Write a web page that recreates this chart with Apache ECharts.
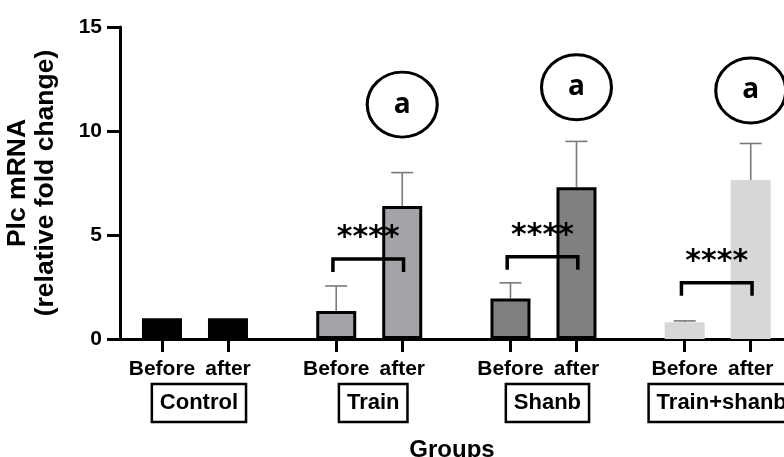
<!DOCTYPE html>
<html>
<head>
<meta charset="utf-8">
<script src="https://cdn.jsdelivr.net/npm/echarts@6/dist/echarts.min.js"></script>
<style>
  html, body { margin: 0; padding: 0; background: #fff; }
  #chart { width: 784px; height: 457px; }
</style>
</head>
<body>
<div id="chart"></div>
<script>
// data
const groups = ['Control', 'Train', 'Shanb', 'Train+shanb'];
const phases = ['Before', 'after'];
const meanValues = [1.0, 1.0, 1.35, 6.4, 1.95, 7.3, 0.8, 7.65];
const errorTops = [null, null, 2.55, 8.0, 2.7, 9.5, 0.87, 9.4];
const bracketLevels = [null, 3.85, 3.95, 2.7];
const letterLevels = [null, 11.27, 12.1, 11.95];
const yTicks = [0, 5, 10, 15];

const groupFills = ['#000000', '#a4a4a8', '#808080', '#d7d7d7'];
const groupBordered = [false, true, true, false];

// x layout: one unit between before/after, groups spaced apart
const GROUP_STEP = 2.64;
const LABEL_SHIFT = 0.06;
const xOf = (g, k) => g * GROUP_STEP + k;
const xPositions = [];
groups.forEach((_, g) => phases.forEach((_, k) => xPositions.push(xOf(g, k))));
const groupCenters = groups.map((_, g) => xOf(g, 0.5) + LABEL_SHIFT);

function nearestIndex(list, v) {
  let best = 0;
  list.forEach((p, i) => { if (Math.abs(p - v) < Math.abs(list[best] - v)) best = i; });
  return best;
}

const FONT = '"Liberation Sans", Arial, sans-serif';

const barData = meanValues.map((v, i) => {
  const g = Math.floor(i / 2);
  return {
    value: [xPositions[i], v],
    itemStyle: {
      color: groupFills[g],
      borderColor: '#000',
      borderWidth: groupBordered[g] ? 3 : 0
    }
  };
});

const errorData = [];
errorTops.forEach((top, i) => {
  if (top != null) errorData.push([xPositions[i], meanValues[i], top]);
});

const bracketData = [];
bracketLevels.forEach((lvl, g) => {
  if (lvl != null) bracketData.push([xOf(g, 0) - 0.05, xOf(g, 1) + 0.02, lvl]);
});

const letterData = [];
letterLevels.forEach((lvl, g) => {
  if (lvl != null) letterData.push([xOf(g, 1), lvl]);
});

const chart = echarts.init(document.getElementById('chart'));
chart.setOption({
  backgroundColor: '#fff',
  animation: false,
  grid: { left: 120, right: 0, top: 27, bottom: 118, outerBoundsMode: 'none', containLabel: false },
  xAxis: [
    {
      type: 'value',
      min: -0.636,
      max: 9.424,
      splitLine: { show: false },
      axisLine: { lineStyle: { color: '#000', width: 3 } },
      axisTick: { customValues: xPositions, length: 13, lineStyle: { color: '#000', width: 3 } },
      axisLabel: {
        customValues: xPositions,
        formatter: v => phases[nearestIndex(xPositions, v) % 2],
        color: '#000', fontSize: 21, fontWeight: 'bold', fontFamily: FONT, margin: 20
      },
      name: 'Groups',
      nameLocation: 'middle',
      nameGap: 99,
      nameTextStyle: { color: '#000', fontSize: 24, fontWeight: 'bold', fontFamily: FONT }
    },
    {
      type: 'value',
      min: -0.636,
      max: 9.424,
      position: 'bottom',
      splitLine: { show: false },
      axisLine: { show: false },
      axisTick: { show: false },
      axisLabel: {
        customValues: groupCenters,
        formatter: v => groups[nearestIndex(groupCenters, v)],
        color: '#000', fontSize: 22, fontWeight: 'bold', fontFamily: FONT,
        margin: 45,
        borderColor: '#000', borderWidth: 2.5,
        padding: [8, 8, 8, 8]
      }
    }
  ],
  yAxis: {
    type: 'value',
    min: yTicks[0],
    max: yTicks[yTicks.length - 1],
    interval: yTicks[1] - yTicks[0],
    splitLine: { show: false },
    axisLine: { show: true, onZero: false, lineStyle: { color: '#000', width: 3 } },
    axisTick: { show: true, length: 13, lineStyle: { color: '#000', width: 3 } },
    axisLabel: { color: '#000', fontSize: 21, fontWeight: 'bold', fontFamily: FONT, margin: 18 },
    name: 'Plc mRNA\n(relative fold change)',
    nameLocation: 'middle',
    nameGap: 60,
    nameTextStyle: { color: '#000', fontSize: 26.5, fontWeight: 'bold', fontFamily: FONT, lineHeight: 28 }
  },
  series: [
    {
      type: 'custom',
      name: 'error',
      z: 1,
      clip: false,
      data: errorData,
      renderItem(params, api) {
        const x = api.value(0);
        const p0 = api.coord([x, api.value(1)]);
        const p1 = api.coord([x, api.value(2)]);
        const style = { stroke: '#7a7a7a', lineWidth: 1.6 };
        return {
          type: 'group',
          children: [
            { type: 'line', shape: { x1: p0[0], y1: p0[1], x2: p1[0], y2: p1[1] }, style },
            { type: 'line', shape: { x1: p1[0] - 11, y1: p1[1], x2: p1[0] + 11, y2: p1[1] }, style }
          ]
        };
      }
    },
    {
      type: 'bar',
      name: 'mean',
      z: 2,
      barWidth: 40,
      data: barData
    },
    {
      type: 'custom',
      name: 'significance',
      z: 3,
      clip: false,
      data: bracketData,
      renderItem(params, api) {
        const l = api.coord([api.value(0), api.value(2)]);
        const r = api.coord([api.value(1), api.value(2)]);
        return {
          type: 'group',
          children: [
            {
              type: 'polyline',
              shape: { points: [[l[0], l[1] + 13], [l[0], l[1]], [r[0], r[1]], [r[0], r[1] + 13]] },
              style: { stroke: '#000', lineWidth: 3.5, fill: null }
            },
            {
              type: 'text',
              style: {
                x: (l[0] + r[0]) / 2, y: l[1] - 21,
                text: '****',
                fill: '#000',
                font: 'bold 30px "DejaVu Sans", sans-serif',
                align: 'center', verticalAlign: 'middle'
              }
            }
          ]
        };
      }
    },
    {
      type: 'scatter',
      name: 'letters',
      z: 4,
      clip: false,
      symbol: 'circle',
      symbolSize: [70, 65],
      itemStyle: { color: '#fff', borderColor: '#000', borderWidth: 3, opacity: 1 },
      label: {
        show: true, position: 'inside', formatter: 'a',
        color: '#000', fontSize: 28, fontWeight: 'bold', fontFamily: '"Open Sans", sans-serif'
      },
      data: letterData
    }
  ]
});
</script>
</body>
</html>
